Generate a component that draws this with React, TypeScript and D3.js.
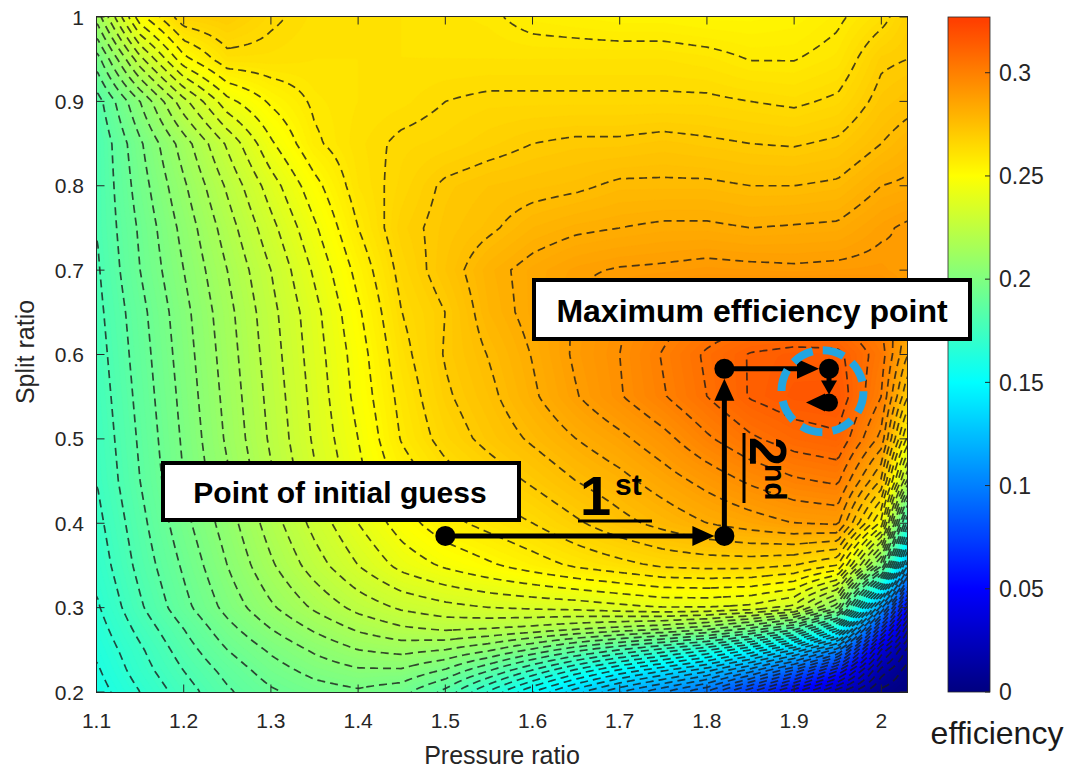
import React, { useMemo } from "react";
import * as d3 from "d3";

// Grid axes of the efficiency map
const pressureRatio = [1.10, 1.15, 1.20, 1.25, 1.30, 1.35, 1.40, 1.45, 1.50, 1.55, 1.60, 1.65, 1.70, 1.75, 1.80, 1.85, 1.90, 1.95, 2.00, 2.03];
const splitRatio = [1.00, 0.95, 0.90, 0.85, 0.80, 0.75, 0.70, 0.65, 0.60, 0.55, 0.50, 0.45, 0.40, 0.35, 0.30, 0.275, 0.25, 0.225, 0.20];

// efficiency[row][col]: rows follow splitRatio, columns follow pressureRatio
const efficiency = [
  [0.212, 0.250, 0.268, 0.270, 0.265, 0.262, 0.261, 0.261, 0.260, 0.259, 0.256, 0.255, 0.254, 0.254, 0.253, 0.253, 0.254, 0.257, 0.262, 0.268],
  [0.195, 0.226, 0.250, 0.262, 0.262, 0.261, 0.261, 0.261, 0.261, 0.261, 0.261, 0.261, 0.261, 0.261, 0.260, 0.2578, 0.2578, 0.260, 0.269, 0.270],
  [0.183, 0.204, 0.226, 0.244, 0.253, 0.259, 0.261, 0.262, 0.264, 0.265, 0.265, 0.265, 0.265, 0.265, 0.265, 0.264, 0.263, 0.265, 0.272, 0.274],
  [0.180, 0.197, 0.213, 0.229, 0.245, 0.257, 0.262, 0.265, 0.266, 0.268, 0.270, 0.271, 0.271, 0.272, 0.271, 0.270, 0.2695, 0.271, 0.276, 0.279],
  [0.180, 0.195, 0.209, 0.223, 0.237, 0.250, 0.261, 0.266, 0.271, 0.273, 0.274, 0.275, 0.277, 0.277, 0.277, 0.276, 0.276, 0.277, 0.282, 0.283],
  [0.180, 0.193, 0.206, 0.219, 0.232, 0.245, 0.258, 0.268, 0.272, 0.275, 0.279, 0.281, 0.282, 0.283, 0.283, 0.282, 0.2825, 0.283, 0.287, 0.289],
  [0.179, 0.192, 0.204, 0.216, 0.228, 0.241, 0.254, 0.266, 0.273, 0.280, 0.284, 0.287, 0.2885, 0.289, 0.290, 0.2895, 0.289, 0.2895, 0.290, 0.288],
  [0.178, 0.190, 0.202, 0.214, 0.226, 0.238, 0.251, 0.264, 0.270, 0.279, 0.284, 0.2885, 0.293, 0.297, 0.300, 0.302, 0.303, 0.303, 0.298, 0.290],
  [0.177, 0.189, 0.201, 0.213, 0.225, 0.237, 0.249, 0.262, 0.2705, 0.2763, 0.2823, 0.289, 0.294, 0.3005, 0.307, 0.3125, 0.314, 0.3135, 0.303, 0.282],
  [0.176, 0.188, 0.200, 0.212, 0.224, 0.236, 0.248, 0.260, 0.269, 0.2745, 0.281, 0.2876, 0.2935, 0.2995, 0.306, 0.3125, 0.3155, 0.316, 0.300, 0.270],
  [0.175, 0.187, 0.199, 0.211, 0.223, 0.235, 0.246, 0.2585, 0.2665, 0.272, 0.277, 0.282, 0.2865, 0.292, 0.299, 0.305, 0.309, 0.311, 0.292, 0.250],
  [0.174, 0.186, 0.198, 0.209, 0.221, 0.233, 0.244, 0.254, 0.261, 0.266, 0.271, 0.276, 0.280, 0.285, 0.290, 0.295, 0.299, 0.301, 0.275, 0.220],
  [0.172, 0.184, 0.196, 0.207, 0.219, 0.230, 0.240, 0.249, 0.256, 0.260, 0.264, 0.269, 0.274, 0.278, 0.282, 0.285, 0.288, 0.289, 0.250, 0.170],
  [0.170, 0.182, 0.193, 0.204, 0.215, 0.225, 0.234, 0.242, 0.247, 0.251, 0.255, 0.259, 0.262, 0.265, 0.266, 0.266, 0.264, 0.258, 0.200, 0.120],
  [0.167, 0.179, 0.190, 0.200, 0.209, 0.217, 0.224, 0.229, 0.232, 0.234, 0.235, 0.236, 0.238, 0.240, 0.240, 0.238, 0.232, 0.205, 0.110, 0.050],
  [0.165, 0.176, 0.186, 0.196, 0.204, 0.211, 0.217, 0.221, 0.223, 0.222, 0.220, 0.217, 0.214, 0.211, 0.206, 0.197, 0.183, 0.155, 0.070, 0.025],
  [0.163, 0.173, 0.183, 0.192, 0.199, 0.205, 0.210, 0.212, 0.210, 0.205, 0.197, 0.188, 0.180, 0.172, 0.163, 0.150, 0.132, 0.105, 0.035, 0.010],
  [0.161, 0.171, 0.180, 0.188, 0.195, 0.200, 0.203, 0.203, 0.197, 0.186, 0.173, 0.160, 0.148, 0.138, 0.127, 0.110, 0.088, 0.060, 0.015, 0.003],
  [0.159, 0.168, 0.177, 0.185, 0.191, 0.195, 0.197, 0.194, 0.184, 0.167, 0.150, 0.134, 0.120, 0.108, 0.095, 0.072, 0.049, 0.025, 0.004, 0.000],
];

// Axis ticks
const pressureTicks = [1.1, 1.2, 1.3, 1.4, 1.5, 1.6, 1.7, 1.8, 1.9, 2];
const splitTicks = [0.2, 0.3, 0.4, 0.5, 0.6, 0.7, 0.8, 0.9, 1];
const colorTicks = [0, 0.05, 0.1, 0.15, 0.2, 0.25, 0.3];

// Colour limits and contour spacing
const colorbarMax = 0.327;
const jetMax = 0.4;
const lineStep = 0.006;
const fillStep = 0.0015;

// Optimisation path: initial guess -> 1st step -> 2nd step -> optimum
const pathPressure = [1.5, 1.82, 1.82, 1.94, 1.94];
const pathSplit = [0.385, 0.385, 0.583, 0.583, 0.543];

const FONT = "'Liberation Sans', Arial, Helvetica, sans-serif";

function jet(t: number): string {
  const c = (v: number) => Math.max(0, Math.min(1, v));
  const r = c(Math.min(4 * t - 1.5, -4 * t + 4.5));
  const g = c(Math.min(4 * t - 0.5, -4 * t + 3.5));
  const b = c(Math.min(4 * t + 0.5, -4 * t + 2.5));
  return `rgb(${Math.round(r * 255)},${Math.round(g * 255)},${Math.round(b * 255)})`;
}

const PLOT = { left: 96.5, top: 16.5, width: 811, height: 676 };

export default function App() {
  const x = d3.scaleLinear().domain([1.1, 2.03]).range([PLOT.left, PLOT.left + PLOT.width]);
  const y = d3.scaleLinear().domain([0.2, 1.0]).range([692, 17]);
  const cy = d3.scaleLinear().domain([0, colorbarMax]).range([692, 17]);

  const { fills, lines } = useMemo(() => {
    const xs = pressureRatio;
    const ys = splitRatio.slice().reverse();
    const rows = efficiency.slice().reverse();
    const valueAt = (p: number, s: number) => {
      p = Math.max(xs[0], Math.min(xs[xs.length - 1], p));
      s = Math.max(ys[0], Math.min(ys[ys.length - 1], s));
      let i = d3.bisectRight(xs, p) - 1;
      i = Math.max(0, Math.min(xs.length - 2, i));
      let j = d3.bisectRight(ys, s) - 1;
      j = Math.max(0, Math.min(ys.length - 2, j));
      const tx = (p - xs[i]) / (xs[i + 1] - xs[i]);
      const ty = (s - ys[j]) / (ys[j + 1] - ys[j]);
      const a = rows[j][i] * (1 - tx) + rows[j][i + 1] * tx;
      const b = rows[j + 1][i] * (1 - tx) + rows[j + 1][i + 1] * tx;
      return a * (1 - ty) + b * ty;
    };
    const cell = 3;
    const gx0 = PLOT.left - 2 * cell;
    const gy0 = PLOT.top - 2 * cell;
    const nx = Math.ceil((PLOT.width + 4 * cell) / cell);
    const ny = Math.ceil((PLOT.height + 4 * cell) / cell);
    const grid: number[] = new Array(nx * ny);
    for (let j = 0; j < ny; j++) {
      for (let i = 0; i < nx; i++) {
        const px = gx0 + (i + 0.5) * cell;
        const py = gy0 + (j + 0.5) * cell;
        grid[j * nx + i] = valueAt(x.invert(px), y.invert(py));
      }
    }
    const path = d3.geoPath(d3.geoIdentity().scale(cell).translate([gx0, gy0]) as any);
    const fillLevels = d3.range(0, 0.33, fillStep);
    const fillContours = d3.contours().size([nx, ny]).thresholds(fillLevels)(grid);
    const fills = fillContours.map((c) => ({
      d: path(c as any) || "",
      color: jet((c.value + fillStep / 2) / jetMax),
    }));
    const lineLevels = d3.range(lineStep, 0.33, lineStep);
    const lineContours = d3.contours().size([nx, ny]).thresholds(lineLevels)(grid);
    const lines = lineContours.map((c) => path(c as any) || "");
    return { fills, lines };
  }, []);

  // gradient stops run top (max) to bottom (0), offsets ascending
  const colorStops = d3.range(0, colorbarMax + 0.0001, 0.005)
    .map((v) => ({ offset: 1 - v / colorbarMax, color: jet(v / jetMax) }))
    .reverse();

  const pts = pathPressure.map((p, i) => [x(p), y(pathSplit[i])] as [number, number]);

  const arrow = (from: [number, number], to: [number, number], gap: number, len: number, half: number, key: string) => {
    const dx = to[0] - from[0];
    const dy = to[1] - from[1];
    const L = Math.hypot(dx, dy);
    const ux = dx / L, uy = dy / L;
    const tip: [number, number] = [to[0] - ux * gap, to[1] - uy * gap];
    const base: [number, number] = [tip[0] - ux * len, tip[1] - uy * len];
    const nxv = -uy, nyv = ux;
    return (
      <g key={key}>
        <line x1={from[0]} y1={from[1]} x2={base[0] + ux * 2} y2={base[1] + uy * 2} stroke="#000" strokeWidth={5} />
        <polygon
          points={`${tip[0]},${tip[1]} ${base[0] + nxv * half},${base[1] + nyv * half} ${base[0] - nxv * half},${base[1] - nyv * half}`}
          fill="#000"
        />
      </g>
    );
  };

  const last = pts[4];
  const circleCenter: [number, number] = [x(1.9325), y(0.5565)];

  return (
    <svg width={1071} height={771} style={{ position: "absolute", left: 0, top: 0, background: "#fff" }} fontFamily={FONT}>
      <defs>
        <clipPath id="plot-clip">
          <rect x={PLOT.left} y={PLOT.top} width={PLOT.width} height={PLOT.height} />
        </clipPath>
        <linearGradient id="cbar" x1="0" y1="0" x2="0" y2="1">
          {colorStops.map((s, i) => (
            <stop key={i} offset={s.offset} stopColor={s.color} />
          ))}
        </linearGradient>
      </defs>
      <rect width={1071} height={771} fill="#fff" />

      <g clipPath="url(#plot-clip)">
        {fills.map((f, i) => (
          <path key={i} d={f.d} fill={f.color} stroke={f.color} strokeWidth={0.4} />
        ))}
        {lines.map((d, i) => (
          <path key={i} d={d} fill="none" stroke="#1a1a1a" strokeOpacity={0.8} strokeWidth={1.7} strokeDasharray="8 5" />
        ))}
      </g>

      {/* axes box with inward ticks */}
      <rect x={PLOT.left} y={PLOT.top} width={PLOT.width} height={PLOT.height} fill="none" stroke="#262626" strokeWidth={1} />
      {pressureTicks.map((t) => (
        <g key={`xt${t}`}>
          <line x1={x(t)} x2={x(t)} y1={PLOT.top + PLOT.height} y2={PLOT.top + PLOT.height - 8} stroke="#262626" />
          <line x1={x(t)} x2={x(t)} y1={PLOT.top} y2={PLOT.top + 8} stroke="#262626" />
          <text x={x(t)} y={728} textAnchor="middle" fontSize={21} fill="#262626">
            {d3.format("~g")(t)}
          </text>
        </g>
      ))}
      {splitTicks.map((t) => (
        <g key={`yt${t}`}>
          <line x1={PLOT.left} x2={PLOT.left + 8} y1={y(t)} y2={y(t)} stroke="#262626" />
          <line x1={PLOT.left + PLOT.width} x2={PLOT.left + PLOT.width - 8} y1={y(t)} y2={y(t)} stroke="#262626" />
          <text x={84} y={y(t)} dy="0.36em" textAnchor="end" fontSize={21} fill="#262626">
            {d3.format("~g")(t)}
          </text>
        </g>
      ))}
      <text x={502} y={764} textAnchor="middle" fontSize={25} fill="#262626">Pressure ratio</text>
      <text transform={`translate(34,352) rotate(-90)`} textAnchor="middle" fontSize={25} fill="#262626">Split ratio</text>

      {/* colour bar */}
      <rect x={948} y={cy(colorbarMax)} width={42} height={cy(0) - cy(colorbarMax)} fill="url(#cbar)" stroke="#262626" strokeWidth={0.8} />
      {colorTicks.map((t) => (
        <g key={`ct${t}`}>
          <line x1={990} x2={985} y1={cy(t)} y2={cy(t)} stroke="#262626" />
          <text x={999} y={cy(t)} dy="0.36em" fontSize={23} fill="#262626">
            {d3.format("~g")(t)}
          </text>
        </g>
      ))}
      <text x={997} y={744} textAnchor="middle" fontSize={32} fill="#1a1a1a">efficiency</text>

      {/* optimisation steps */}
      {arrow(pts[0], pts[1], 10, 22, 10, "a1")}
      {arrow(pts[1], pts[2], 10, 22, 10, "a2")}
      {arrow(pts[2], pts[3], 10, 22, 10, "a3")}
      {arrow(pts[3], pts[4], 8, 14, 8, "a4")}
      <circle cx={circleCenter[0]} cy={circleCenter[1]} r={41} fill="none" stroke="#23a5e1" strokeWidth={8} strokeDasharray="22 10.2" />
      <polygon points={`${last[0] - 23},${last[1]} ${last[0] - 4},${last[1] - 9} ${last[0] - 4},${last[1] + 9}`} fill="#000" />
      {pts.map((p, i) => (
        <circle key={`pt${i}`} cx={p[0]} cy={p[1]} r={i === 4 ? 9 : 10} fill="#000" />
      ))}

      {/* step labels */}
      <g fontWeight="bold" fill="#000">
        <text x={580} y={515} fontSize={56}>1</text>
        <text x={615} y={495} fontSize={30}>st</text>
        <line x1={578} x2={652} y1={521} y2={521} stroke="#000" strokeWidth={3} />
        <g transform="translate(750,437) rotate(90)">
          <text x={0} y={0} fontSize={52}>2</text>
          <text x={27} y={-15} fontSize={30}>nd</text>
          <line x1={-4} x2={66} y1={6} y2={6} stroke="#000" strokeWidth={3} />
        </g>
      </g>

      {/* callout boxes */}
      <rect x={534} y={280} width={436} height={59} fill="#fff" stroke="#000" strokeWidth={4} />
      <text x={752} y={322} textAnchor="middle" fontSize={32} fontWeight="bold" fill="#000">Maximum efficiency point</text>
      <rect x={163} y={463} width={356} height={57} fill="#fff" stroke="#000" strokeWidth={4} />
      <text x={340} y={503} textAnchor="middle" fontSize={30} fontWeight="bold" fill="#000">Point of initial guess</text>
    </svg>
  );
}
